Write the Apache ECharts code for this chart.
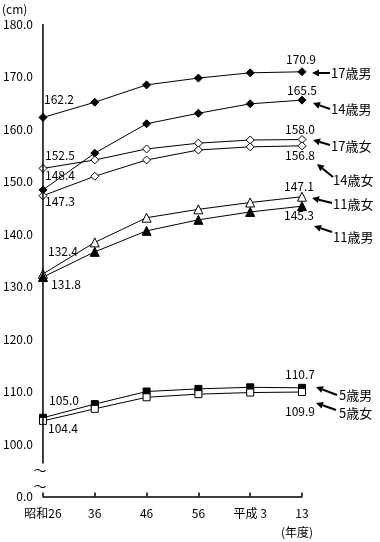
<!DOCTYPE html>
<html><head><meta charset="utf-8">
<script src="https://cdn.jsdelivr.net/npm/echarts@6/dist/echarts.min.js"></script>
<style>html,body{margin:0;padding:0;background:#fff}#c{width:380px;height:542px}</style>
</head><body><div id="c"></div>
<script>
var categories = ['昭和26', '36', '46', '56', '平成 3', '13'];
var male17   = [162.2, 165.1, 168.4, 169.7, 170.7, 170.9];
var male14   = [148.4, 155.4, 161.0, 163.0, 164.8, 165.5];
var female17 = [152.5, 154.1, 156.2, 157.3, 157.9, 158.0];
var female14 = [147.3, 151.0, 154.1, 156.0, 156.6, 156.8];
var female11 = [132.4, 138.4, 143.1, 144.7, 146.0, 147.1];
var male11   = [131.8, 136.6, 140.6, 142.7, 144.2, 145.3];
var male5    = [105.0, 107.6, 110.0, 110.5, 110.8, 110.7];
var female5  = [104.4, 106.7, 108.9, 109.5, 109.8, 109.9];
var seriesNames = ['17歳男', '14歳男', '17歳女', '14歳女', '11歳女', '11歳男', '5歳男', '5歳女'];

var FONT = '"Noto Sans CJK JP", sans-serif';
var chart = echarts.init(document.getElementById('c'), null, {renderer: 'canvas'});

function mk(name, arr, symbol, filled, size, firstOff, lastOff) {
  var data = arr.map(function (v, i) {
    var d = {value: v};
    var off = i === 0 ? firstOff : (i === arr.length - 1 ? lastOff : null);
    if (off) {
      d.label = {show: true, position: 'inside', offset: off,
        formatter: function (p) { return p.value.toFixed(1); },
        color: '#000', fontFamily: FONT, fontSize: 12};
    }
    return d;
  });
  return {
    name: name, type: 'line', data: data, symbol: symbol, symbolSize: size,
    showAllSymbol: true,
    lineStyle: {color: '#000', width: 1},
    itemStyle: {color: filled ? '#000' : '#fff', borderColor: '#000', borderWidth: 1},
    label: {show: false},
    emphasis: {disabled: true},
    animation: false
  };
}

var option = {
  animation: false,
  grid: {left: 42, right: 78, top: 24, bottom: 45.5, containLabel: false},
  xAxis: {
    type: 'category', data: categories, boundaryGap: false,
    axisLine: {lineStyle: {color: '#000', width: 1.5}},
    axisTick: {inside: true, length: 4, lineStyle: {color: '#000', width: 1.5}},
    axisLabel: {color: '#000', fontFamily: FONT, fontSize: 12, margin: 11}
  },
  yAxis: {
    type: 'value', min: 90, max: 180, interval: 10,
    splitLine: {show: false},
    axisLine: {show: false},
    axisTick: {inside: true, length: 4, lineStyle: {color: '#000', width: 1.5}},
    axisLabel: {color: '#000', fontFamily: FONT, fontSize: 12, margin: 10,
      formatter: function (v) { return v === 90 ? '0.0' : v.toFixed(1); }}
  },
  series: [
    mk(seriesNames[0], male17, 'diamond', true, 8, [16, -18], [-1, -12]),
    mk(seriesNames[1], male14, 'diamond', true, 8, [17, -14], [0, -10]),
    mk(seriesNames[2], female17, 'diamond', false, 8, [17, -13], [-2, -10]),
    mk(seriesNames[3], female14, 'diamond', false, 8, [17, 6], [-2, 10]),
    mk(seriesNames[4], female11, 'triangle', false, 9, [20, -22], [-3, -10]),
    mk(seriesNames[5], male11, 'triangle', true, 9, [23, 7], [-3, 9]),
    mk(seriesNames[6], male5, 'rect', true, 7, [21, -17], [-2, -13]),
    mk(seriesNames[7], female5, 'rect', false, 7, [20, 8], [-2, 19])
  ]
};
chart.setOption(option);

// decorations: axis with break, arrows, legends
var x0 = chart.convertToPixel({gridIndex: 0}, [0, 180]);
var yTop = x0[1], xAxisX = x0[0];
var yBottom = chart.convertToPixel({gridIndex: 0}, [0, 90])[1];
var yBreak = yBottom - 33;

var g = [];
g.push({type: 'line', shape: {x1: xAxisX, y1: yTop, x2: xAxisX, y2: yBreak}, style: {stroke: '#000', lineWidth: 1.5}, z: 10});
g.push({type: 'text', x: xAxisX - 3, y: yBreak + 7, style: {text: '〜', font: '13px ' + FONT, fill: '#000', textAlign: 'center', textVerticalAlign: 'middle'}, z: 10});
g.push({type: 'text', x: xAxisX - 3, y: yBreak + 23, style: {text: '〜', font: '13px ' + FONT, fill: '#000', textAlign: 'center', textVerticalAlign: 'middle'}, z: 10});
g.push({type: 'text', x: 2, y: 9, style: {text: '(cm)', font: '12px ' + FONT, fill: '#000', textAlign: 'left', textVerticalAlign: 'middle'}, z: 10});
g.push({type: 'text', x: 297, y: 532, style: {text: '(年度)', font: '12px ' + FONT, fill: '#000', textAlign: 'center', textVerticalAlign: 'middle'}, z: 10});

function arrow(tx, ty, hx, hy) {
  var dx = hx - tx, dy = hy - ty, L = Math.sqrt(dx * dx + dy * dy);
  var ux = dx / L, uy = dy / L, hl = 7, hw = 3.5;
  var bx = hx - ux * hl, by = hy - uy * hl;
  g.push({type: 'line', shape: {x1: tx, y1: ty, x2: bx, y2: by}, style: {stroke: '#000', lineWidth: 2}, z: 10});
  g.push({type: 'polygon', shape: {points: [[hx, hy], [bx - uy * hw, by + ux * hw], [bx + uy * hw, by - ux * hw]]}, style: {fill: '#000'}, z: 10});
}
var legendPos = [
  [330, 73, 312, 73, 331, 73],
  [330, 109, 313, 103, 331, 109],
  [330, 145, 313, 140, 331, 146],
  [333, 177, 317, 164, 333, 180],
  [332, 203, 312, 198, 333, 204],
  [332, 232, 314, 226, 333, 237],
  [337, 395, 316, 387, 339, 395],
  [336, 410, 316, 403, 339, 413]
];
legendPos.forEach(function (p, i) {
  arrow(p[0], p[1], p[2], p[3]);
  g.push({type: 'text', x: p[4], y: p[5], style: {text: seriesNames[i], font: '13px ' + FONT, fill: '#000', textAlign: 'left', textVerticalAlign: 'middle'}, z: 10});
});
chart.setOption({graphic: g});
</script></body></html>
